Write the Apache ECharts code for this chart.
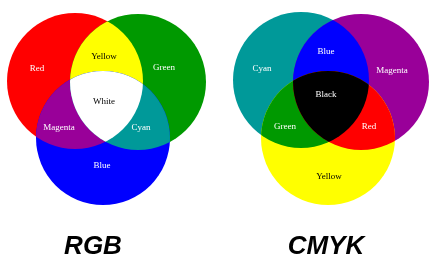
<!DOCTYPE html>
<html>
<head>
<meta charset="utf-8">
<script src="https://cdn.jsdelivr.net/npm/echarts@6/dist/echarts.min.js"></script>
<style>
  html, body { margin: 0; padding: 0; background: #fff; }
  #venn { width: 430px; height: 257px; }
</style>
</head>
<body>
<div id="venn"></div>
<script>
// circles of each diagram: [first, second, third]
const rgbCircleX = [75, 138, 103];
const rgbCircleY = [81, 82, 138];
const rgbCircleR = [68, 68, 67];
const rgbColors = ['#ff0000', '#009900', '#0000ff'];
// overlaps: first+second, first+third, second+third, all three
const rgbMixColors = ['#ffff00', '#990099', '#009999', '#ffffff'];

const cmykCircleX = [301, 361, 328];
const cmykCircleY = [80, 82, 138];
const cmykCircleR = [68, 68, 67];
const cmykColors = ['#009999', '#990099', '#ffff00'];
const cmykMixColors = ['#0000ff', '#009900', '#ff0000', '#000000'];

const labelText = ['Red', 'Yellow', 'Green', 'White', 'Magenta', 'Cyan', 'Blue',
                   'Cyan', 'Blue', 'Magenta', 'Black', 'Green', 'Red', 'Yellow'];
const labelX = [37, 104, 164, 104, 59, 141, 102,
                262, 326, 392, 326, 285, 369, 329];
const labelY = [69, 57, 68, 102, 128, 128, 166,
                69, 52, 71, 95, 127, 127, 177];
const labelColor = ['#fff', '#000', '#fff', '#000', '#fff', '#fff', '#fff',
                    '#fff', '#fff', '#fff', '#fff', '#fff', '#fff', '#000'];

const titleText = ['RGB', 'CMYK'];
const titleX = [93, 326];
const titleY = [247, 247];

const diagrams = [
    { cx: rgbCircleX, cy: rgbCircleY, r: rgbCircleR, colors: rgbColors, mix: rgbMixColors },
    { cx: cmykCircleX, cy: cmykCircleY, r: cmykCircleR, colors: cmykColors, mix: cmykMixColors }
];

const chart = echarts.init(document.getElementById('venn'));

function renderVenn(params, api) {
    const d = diagrams[params.dataIndex];
    const circ = (i, fill) => {
        const p = api.coord([d.cx[i], d.cy[i]]);
        const rr = api.size([d.r[i], 0])[0];
        return { type: 'circle', shape: { cx: p[0], cy: p[1], r: rr }, style: fill ? { fill: fill } : {} };
    };
    // b drawn only where it falls inside a
    const pair = (a, b, fill) => ({
        type: 'group',
        clipPath: circ(a),
        children: [circ(b, fill)]
    });
    return {
        type: 'group',
        children: [
            circ(0, d.colors[0]),
            circ(1, d.colors[1]),
            circ(2, d.colors[2]),
            pair(0, 1, d.mix[0]),
            pair(0, 2, d.mix[1]),
            pair(1, 2, d.mix[2]),
            {
                type: 'group',
                clipPath: circ(0),
                children: [pair(1, 2, d.mix[3])]
            }
        ]
    };
}

const option = {
    animation: false,
    backgroundColor: '#fff',
    grid: { left: 0, right: 0, top: 0, bottom: 0 },
    xAxis: { type: 'value', min: 0, max: 430, show: false },
    yAxis: { type: 'value', min: 0, max: 257, inverse: true, show: false },
    series: [
        {
            type: 'custom',
            renderItem: renderVenn,
            data: [[0, 0], [1, 0]],
            silent: true
        },
        {
            type: 'scatter',
            symbolSize: 0,
            silent: true,
            z: 3,
            itemStyle: { opacity: 1 },
            data: labelText.map((t, i) => ({
                name: t,
                value: [labelX[i], labelY[i]],
                label: { color: labelColor[i] }
            })),
            label: {
                show: true,
                position: 'inside',
                formatter: '{b}',
                fontFamily: 'Liberation Serif',
                fontSize: 9
            }
        },
        {
            type: 'scatter',
            symbolSize: 0,
            silent: true,
            z: 3,
            itemStyle: { opacity: 1 },
            data: titleText.map((t, i) => ({ name: t, value: [titleX[i], titleY[i]] })),
            label: {
                show: true,
                position: 'inside',
                formatter: '{b}',
                color: '#000',
                fontFamily: 'Liberation Sans',
                fontStyle: 'italic',
                fontWeight: 'bold',
                fontSize: 26
            }
        }
    ]
};

chart.setOption(option);
</script>
</body>
</html>
